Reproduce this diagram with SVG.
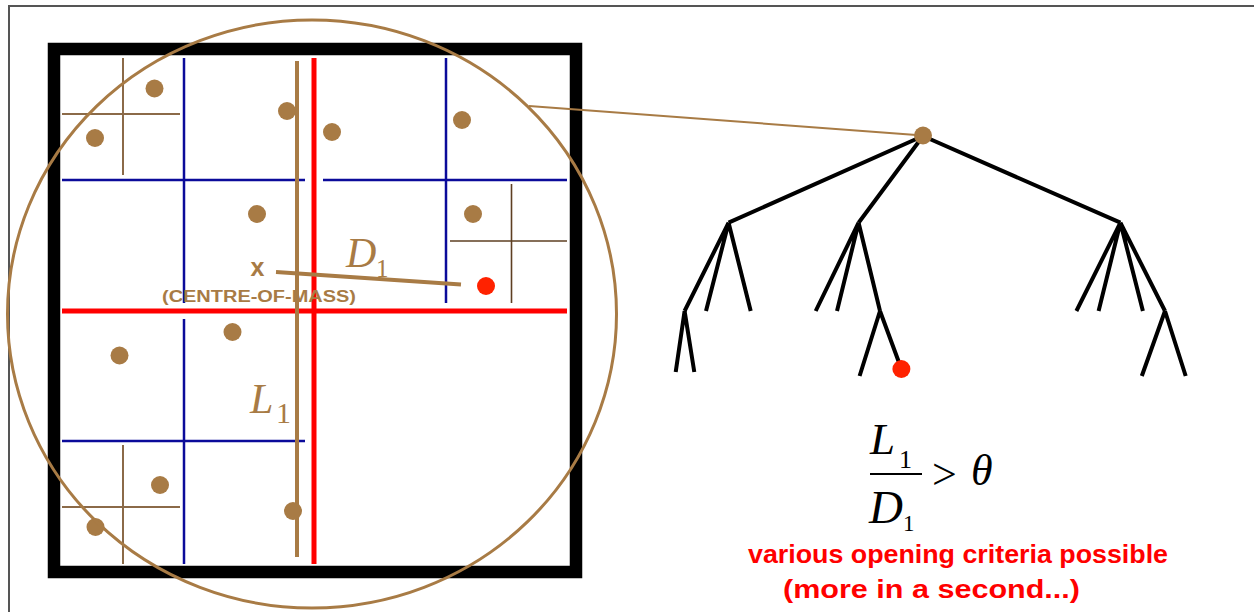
<svg xmlns="http://www.w3.org/2000/svg" width="1254" height="612" viewBox="0 0 1254 612">
<style>
.blue{stroke:#0b0b9a;stroke-width:2.5;fill:none}
.red{stroke:#ff0000;stroke-width:5;fill:none}
.sub{stroke:#8b6a48;stroke-width:2;fill:none}
.subd{stroke:#5e3f22;stroke-width:1.6;fill:none}
.dot{fill:#a87b45}
.tree{stroke:#000;stroke-width:4;fill:none}
.math{font-family:"Liberation Serif","DejaVu Serif",serif;font-style:italic}
.num{font-family:"Liberation Serif","DejaVu Serif",serif}
.lbl{font-family:"Liberation Sans","DejaVu Sans",sans-serif;font-weight:bold}
</style>
<rect width="1254" height="612" fill="#fff"/>
<path d="M9 613 V6 H1260" stroke="#555" stroke-width="2" fill="none"/>

<g id="domain">
  <rect x="54" y="49" width="522" height="523" fill="none" stroke="#000" stroke-width="12.5"/>
  <g id="blue-cells">
    <line class="blue" x1="184" y1="58" x2="184" y2="303"/>
    <line class="blue" x1="446" y1="58" x2="446" y2="303"/>
    <line class="blue" x1="62" y1="180" x2="305" y2="180"/>
    <line class="blue" x1="323" y1="180" x2="567" y2="180"/>
    <line class="blue" x1="184" y1="319" x2="184" y2="564"/>
    <line class="blue" x1="62" y1="441" x2="305" y2="441"/>
  </g>
  <g id="sub-cells">
    <line class="sub" x1="123" y1="58" x2="123" y2="175"/>
    <line class="sub" x1="62" y1="114" x2="180" y2="114"/>
    <line class="subd" x1="511.5" y1="184" x2="511.5" y2="303"/>
    <line class="subd" x1="450" y1="241" x2="567" y2="241"/>
    <line class="sub" x1="123" y1="445" x2="123" y2="564"/>
    <line class="sub" x1="62" y1="507" x2="180" y2="507"/>
  </g>
  <g id="red-cells">
    <line class="red" x1="314" y1="58" x2="314" y2="564"/>
    <line class="red" x1="62" y1="311" x2="567" y2="311"/>
  </g>
  <line id="L1-line" x1="297" y1="61" x2="297" y2="557" stroke="#a87b45" stroke-width="4"/>
  <g id="particles">
    <circle class="dot" cx="154.5" cy="88.5" r="9"/>
    <circle class="dot" cx="95" cy="138" r="9"/>
    <circle class="dot" cx="287" cy="111" r="9"/>
    <circle class="dot" cx="332" cy="132" r="9"/>
    <circle class="dot" cx="462" cy="120" r="9"/>
    <circle class="dot" cx="257" cy="214" r="9"/>
    <circle class="dot" cx="473" cy="214" r="9"/>
    <circle class="dot" cx="119.5" cy="355.5" r="9"/>
    <circle class="dot" cx="232.5" cy="332" r="9"/>
    <circle class="dot" cx="160" cy="485" r="9"/>
    <circle class="dot" cx="95.5" cy="527" r="9"/>
    <circle class="dot" cx="293" cy="511" r="9"/>
    <circle cx="486" cy="286" r="9" fill="#ff2200"/>
  </g>
  <line id="D1-line" x1="276" y1="272" x2="461" y2="284.5" stroke="#a87b45" stroke-width="4"/>
  <text class="lbl" x="257.5" y="276" font-size="25" fill="#a87b45" text-anchor="middle">x</text>
  <text class="lbl" x="162" y="302" font-size="16" fill="#a87b45" textLength="194" lengthAdjust="spacingAndGlyphs">(CENTRE-OF-MASS)</text>
  <text class="math" x="346" y="267" font-size="42" fill="#a87b45">D</text>
  <text class="num" x="376" y="277" font-size="25" fill="#a87b45">1</text>
  <text class="math" x="250" y="413" font-size="42" fill="#a87b45">L</text>
  <text class="num" x="276" y="423" font-size="30" fill="#a87b45">1</text>
  <ellipse id="opening-circle" cx="312" cy="314" rx="304.5" ry="294" fill="none" stroke="#a87b45" stroke-width="3"/>
</g>

<g id="connectors">
  <line x1="529" y1="106" x2="923" y2="135.5" stroke="#a87b45" stroke-width="2"/>
  <g id="tree-edges">
    <path class="tree" d="M923 136 L728.6 222.7 M923 136 L858.6 222.7 M923 136 L1120.4 222.7"/>
    <path class="tree" d="M728.6 222.7 L684.6 311 M728.6 222.7 L706 311 M728.6 222.7 L750.7 311"/>
    <path class="tree" d="M684.6 311 L675.7 372 M684.6 311 L694.3 372"/>
    <path class="tree" d="M858.6 222.7 L815.7 311 M858.6 222.7 L837 311 M858.6 222.7 L880 311"/>
    <path class="tree" d="M880 311 L859.6 376 M880 311 L901.4 369"/>
    <path class="tree" d="M1120.4 222.7 L1076.4 311 M1120.4 222.7 L1098.6 311 M1120.4 222.7 L1142.9 311 M1120.4 222.7 L1165 311"/>
    <path class="tree" d="M1165 311 L1141.8 376 M1165 311 L1185.7 376"/>
  </g>
</g>

<g id="tree-root"><circle cx="923" cy="135.5" r="9" fill="#a87b45"/></g>
<g id="tree-leaf-target"><circle cx="901.4" cy="369" r="9" fill="#ff2200"/></g>

<g id="criterion">
  <text class="math" x="870" y="454" font-size="45">L</text>
  <text class="num" x="899" y="468" font-size="26">1</text>
  <line x1="870" y1="474" x2="922" y2="474" stroke="#000" stroke-width="2"/>
  <text class="math" x="869" y="523" font-size="47">D</text>
  <text class="num" x="903" y="531" font-size="23">1</text>
  <text class="num" x="932" y="489" font-size="44">&gt;</text>
  <text class="math" x="971" y="485" font-size="44">θ</text>
</g>

<g id="caption" fill="#ff0000">
  <text class="lbl" x="748" y="563" font-size="26" textLength="420" lengthAdjust="spacingAndGlyphs">various opening criteria possible</text>
  <text class="lbl" x="783" y="598" font-size="26" textLength="297" lengthAdjust="spacingAndGlyphs">(more in a second...)</text>
</g>
</svg>
